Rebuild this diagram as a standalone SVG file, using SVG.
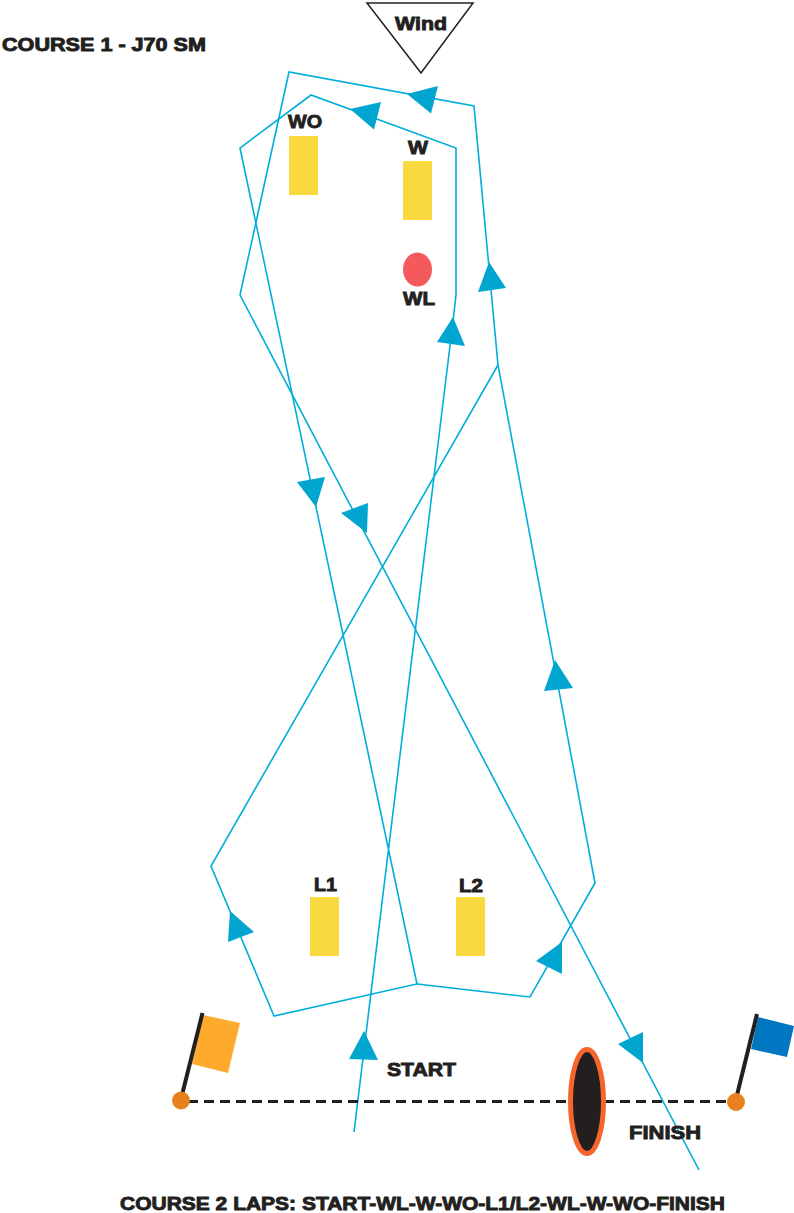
<svg xmlns="http://www.w3.org/2000/svg" width="794" height="1213" viewBox="0 0 794 1213">
<style>
.t{font-family:"Liberation Sans",Arial,sans-serif;font-weight:700;fill:#231f20;stroke:#231f20;stroke-width:.9}
.c{fill:none;stroke:#00aeda;stroke-width:1.6;stroke-linejoin:miter}
.a{fill:#00a5d0}
.y{fill:#f8da40}
.p{stroke:#231f20;stroke-width:4;fill:none}
.o{fill:#e8811c}
</style>
<rect width="794" height="1213" fill="#fff"/>
<text id="title" class="t" x="2" y="50.500" font-size="18" textLength="204" lengthAdjust="spacingAndGlyphs">COURSE 1 - J70 SM</text>
<g id="wind"><polygon points="367,3 473,3 421,73" fill="#fff" stroke="#231f20" stroke-width="1.5"/><text class="t" x="395" y="30" font-size="19" textLength="52" lengthAdjust="spacingAndGlyphs">Wind</text></g>
<g id="connectors">
<polyline class="c" points="354,1132 453.500,317 456,295 456,148 311,95 240,148 417,984 274,1016 211,866 498,365"/>
<polyline class="c" points="417,984 530,997 595,883 498,365 474,106 289,72 240,295 699,1170"/>
<polygon class="a" points="407,94 438,86 431,113.500"/>
<polygon class="a" points="350,109 381,102 374,129.500"/>
<polygon class="a" points="489,262 506,288 478,292"/>
<polygon class="a" points="453,317 465,346 437,342"/>
<polygon class="a" points="316,507 297,482 325,477"/>
<polygon class="a" points="367,533 341,513 368,503"/>
<polygon class="a" points="555,660 573,688 544,691"/>
<polygon class="a" points="230,911 254,932 228,942"/>
<polygon class="a" points="562,942 536,961 562,974"/>
<polygon class="a" points="364,1031 349,1059 378,1060"/>
<polygon class="a" points="643,1063 618,1044 643,1032"/>
</g>
<g id="mark-WO"><rect class="y" x="289" y="136" width="29" height="59"/><text class="t" x="288" y="128" font-size="19" textLength="34" lengthAdjust="spacingAndGlyphs">WO</text></g>
<g id="mark-W"><rect class="y" x="403" y="161" width="29" height="59"/><text class="t" x="408" y="154" font-size="19" textLength="20" lengthAdjust="spacingAndGlyphs">W</text></g>
<g id="mark-WL"><ellipse cx="417.500" cy="269.500" rx="14.500" ry="17" fill="#f4595b"/><text class="t" x="403" y="305" font-size="19" textLength="32" lengthAdjust="spacingAndGlyphs">WL</text></g>
<g id="mark-L1"><rect class="y" x="310" y="897" width="29" height="59"/><text class="t" x="314" y="891" font-size="19" textLength="23" lengthAdjust="spacingAndGlyphs">L1</text></g>
<g id="mark-L2"><rect class="y" x="456" y="897" width="29" height="59"/><text class="t" x="459" y="892" font-size="19" textLength="24" lengthAdjust="spacingAndGlyphs">L2</text></g>
<g id="line"><line x1="188" y1="1101.500" x2="729" y2="1101.500" stroke="#231f20" stroke-width="3" stroke-dasharray="10 6"/></g>
<g id="flag-start"><polygon points="203,1015 240,1023 228,1073 192,1064" fill="#fdaa2d"/><line class="p" x1="202.500" y1="1013" x2="182" y2="1095"/><circle class="o" cx="181" cy="1100.500" r="9"/></g>
<g id="flag-finish"><polygon points="758,1017 794,1026 787,1057 751,1049" fill="#0077c0"/><line class="p" x1="757" y1="1014" x2="737" y2="1095"/><circle class="o" cx="736" cy="1102" r="9"/></g>
<g id="boat"><ellipse cx="587" cy="1101.500" rx="16.500" ry="52" fill="#231f20" stroke="#f6652b" stroke-width="5"/></g>
<text id="start" class="t" x="387" y="1076" font-size="19" textLength="69" lengthAdjust="spacingAndGlyphs">START</text>
<text id="finish" class="t" x="629" y="1139" font-size="19" textLength="72" lengthAdjust="spacingAndGlyphs">FINISH</text>
<text id="note" class="t" x="120" y="1210" font-size="19" textLength="605" lengthAdjust="spacingAndGlyphs">COURSE 2 LAPS: START-WL-W-WO-L1/L2-WL-W-WO-FINISH</text>
</svg>
